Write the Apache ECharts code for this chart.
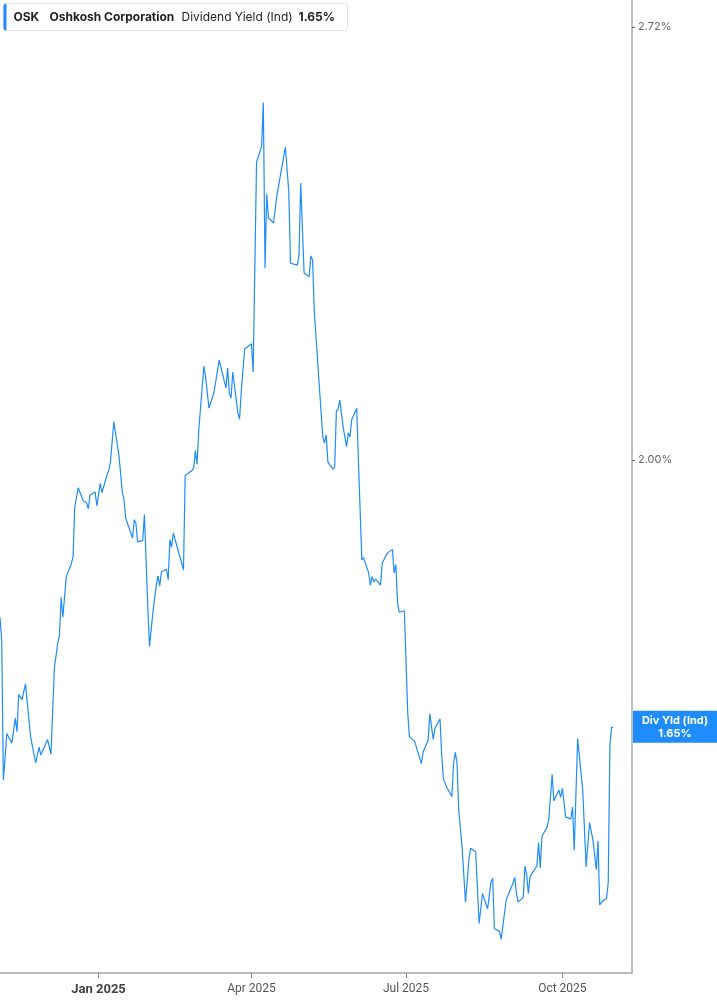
<!DOCTYPE html>
<html>
<head>
<meta charset="utf-8">
<script src="https://cdn.jsdelivr.net/npm/echarts@6/dist/echarts.min.js"></script>
<style>
  html, body { margin: 0; padding: 0; background: #fff; }
  #chart { width: 717px; height: 1005px; }
</style>
</head>
<body>
<div id="chart"></div>
<script>
const dates = [
  '2024-11-04','2024-11-05','2024-11-06','2024-11-08','2024-11-09','2024-11-11','2024-11-13','2024-11-14','2024-11-15','2024-11-17','2024-11-19','2024-11-20','2024-11-22','2024-11-25','2024-11-27','2024-11-28',
  '2024-12-02','2024-12-04','2024-12-06','2024-12-08','2024-12-09','2024-12-10','2024-12-11','2024-12-13','2024-12-16','2024-12-17','2024-12-18','2024-12-20','2024-12-23','2024-12-25','2024-12-26','2024-12-27','2024-12-30','2024-12-31',
  '2025-01-02','2025-01-03','2025-01-06','2025-01-07','2025-01-08','2025-01-10','2025-01-13','2025-01-15','2025-01-16','2025-01-17','2025-01-21','2025-01-22','2025-01-23','2025-01-24','2025-01-27','2025-01-28','2025-01-29','2025-01-30','2025-01-31',
  '2025-02-02','2025-02-04','2025-02-05','2025-02-06','2025-02-07','2025-02-08','2025-02-10','2025-02-11','2025-02-12','2025-02-13','2025-02-14','2025-02-20','2025-02-21','2025-02-22','2025-02-25','2025-02-26','2025-02-27','2025-02-28',
  '2025-03-01','2025-03-04','2025-03-05','2025-03-07','2025-03-10','2025-03-13','2025-03-17','2025-03-18','2025-03-19','2025-03-20','2025-03-21','2025-03-24','2025-03-25','2025-03-26','2025-03-28',
  '2025-04-01','2025-04-02','2025-04-04','2025-04-07','2025-04-08','2025-04-09','2025-04-10','2025-04-11','2025-04-14','2025-04-16','2025-04-17','2025-04-21','2025-04-23','2025-04-24','2025-04-28','2025-04-29','2025-04-30',
  '2025-05-02','2025-05-05','2025-05-06','2025-05-07','2025-05-08','2025-05-11','2025-05-13','2025-05-14','2025-05-15','2025-05-16','2025-05-19','2025-05-20','2025-05-21','2025-05-22','2025-05-23','2025-05-25','2025-05-27','2025-05-28','2025-05-29','2025-05-30',
  '2025-06-02','2025-06-03','2025-06-04','2025-06-05','2025-06-06','2025-06-09','2025-06-10','2025-06-11','2025-06-12','2025-06-13','2025-06-16','2025-06-17','2025-06-20','2025-06-23','2025-06-24','2025-06-25','2025-06-26','2025-06-27','2025-06-30',
  '2025-07-02','2025-07-03','2025-07-06','2025-07-08','2025-07-09','2025-07-10','2025-07-11','2025-07-14','2025-07-15','2025-07-17','2025-07-18','2025-07-21','2025-07-22','2025-07-23','2025-07-24','2025-07-25','2025-07-28','2025-07-29','2025-07-30','2025-07-31',
  '2025-08-01','2025-08-03','2025-08-05','2025-08-07','2025-08-08','2025-08-11','2025-08-13','2025-08-15','2025-08-18','2025-08-20','2025-08-21','2025-08-22','2025-08-25','2025-08-26','2025-08-27','2025-08-29','2025-08-30',
  '2025-09-02','2025-09-03','2025-09-04','2025-09-05','2025-09-08','2025-09-09','2025-09-10','2025-09-11','2025-09-12','2025-09-16','2025-09-17','2025-09-18','2025-09-19','2025-09-22','2025-09-23','2025-09-25','2025-09-26','2025-09-29','2025-09-30',
  '2025-10-01','2025-10-03','2025-10-06','2025-10-07','2025-10-08','2025-10-10','2025-10-13','2025-10-15','2025-10-16','2025-10-17','2025-10-19','2025-10-21','2025-10-22','2025-10-23','2025-10-24','2025-10-27','2025-10-28','2025-10-29','2025-10-30','2025-10-31'
];

// dividend yield, %
const yields = [
  1.788,1.760,1.593,1.647,1.643,1.636,1.665,1.649,1.693,1.687,1.706,1.705,1.643,1.613,1.631,1.622,
  1.640,1.623,1.725,1.756,1.766,1.814,1.789,1.841,1.858,1.867,1.934,1.961,1.943,1.940,1.932,1.951,1.955,1.936,
  1.967,1.954,1.979,1.985,1.997,2.055,2.007,1.955,1.944,1.919,1.892,1.917,1.912,1.887,1.889,1.924,1.923,1.802,1.752,
  1.795,1.830,1.842,1.829,1.847,1.849,1.851,1.837,1.890,1.880,1.899,1.850,1.978,1.980,1.985,1.989,2.013,1.994,
  2.043,2.138,2.122,2.075,2.099,2.147,2.105,2.135,2.097,2.090,2.129,2.068,2.059,2.099,2.164,
  2.172,2.129,2.471,2.499,2.578,2.292,2.416,2.375,2.367,2.414,2.416,2.498,2.419,2.300,2.297,2.313,2.435,
  2.284,2.278,2.312,2.305,2.222,2.106,2.033,2.024,2.036,1.997,1.987,1.990,2.071,2.074,2.087,2.047,2.019,2.039,2.033,2.058,
  2.075,1.996,1.997,1.863,1.866,1.846,1.830,1.841,1.834,1.838,1.830,1.859,1.872,1.877,1.846,1.857,1.807,1.795,1.797,
  1.671,1.643,1.638,1.625,1.625,1.612,1.625,1.639,1.670,1.640,1.653,1.664,1.622,1.595,1.595,1.585,1.575,1.613,1.625,1.613,
  1.560,1.519,1.461,1.506,1.518,1.514,1.439,1.470,1.454,1.482,1.486,1.434,1.431,1.423,1.423,1.464,1.468,
  1.481,1.487,1.470,1.461,1.466,1.499,1.490,1.470,1.488,1.499,1.524,1.497,1.531,1.541,1.549,1.600,1.570,1.582,1.574,
  1.584,1.552,1.550,1.563,1.516,1.641,1.582,1.498,1.499,1.546,1.527,1.495,1.526,1.458,1.461,1.465,1.481,1.634,1.654,1.654
];

const yTicks = [2.0, 2.72];
const xTicks = ['2025-01-01', '2025-04-01', '2025-07-01', '2025-10-01'];
const xRange = ['2024-11-04', '2025-11-11'];
const monthNames = ['Jan', 'Feb', 'Mar', 'Apr', 'May', 'Jun', 'Jul', 'Aug', 'Sep', 'Oct', 'Nov', 'Dec'];
const ticker = 'OSK';
const company = 'Oshkosh Corporation';
const metric = 'Dividend Yield (Ind)';
const shortMetric = 'Div Yld (Ind)';

const blue = '#1e8cfa';
const toTime = s => Date.UTC(+s.slice(0, 4), +s.slice(5, 7) - 1, +s.slice(8, 10));
const xTickValues = xTicks.map(toTime);
const points = dates.map((d, i) => [toTime(d), yields[i]]);
const lastValue = yields[yields.length - 1];
const lastText = lastValue.toFixed(2) + '%';

const chart = echarts.init(document.getElementById('chart'));

const headerFont = w => w + ' 12px Inter, sans-serif';

const option = {
    backgroundColor: '#fff',
    animation: false,
    grid: {
        left: 0,
        right: 85,
        top: 0,
        bottom: 32
    },
    xAxis: {
        type: 'value',
        min: toTime(xRange[0]),
        max: toTime(xRange[1]),
        axisLine: {
            show: true,
            onZero: false,
            lineStyle: { color: '#a8a8a8', width: 1.5 }
        },
        axisTick: {
            show: true,
            customValues: xTickValues,
            length: 5,
            lineStyle: { color: '#888' }
        },
        axisLabel: {
            customValues: xTickValues,
            margin: 10,
            fontFamily: 'Liberation Sans Narrow, Roboto, sans-serif',
            fontSize: 12,
            color: '#555',
            formatter: v => {
                const d = new Date(v);
                const txt = monthNames[d.getUTCMonth()] + ' ' + d.getUTCFullYear();
                return d.getUTCMonth() === 0 ? '{yr|' + txt + '}' : txt;
            },
            rich: {
                yr: {
                    fontFamily: 'Liberation Sans Narrow, Roboto, sans-serif',
                    fontSize: 13,
                    fontWeight: 'bold',
                    color: '#444'
                }
            }
        },
        splitLine: { show: false }
    },
    yAxis: {
        type: 'log',
        logBase: 10,
        position: 'right',
        min: 1.3893,
        max: 2.7728,
        axisLine: {
            show: true,
            lineStyle: { color: '#a8a8a8', width: 1.5 }
        },
        axisTick: {
            show: true,
            customValues: yTicks,
            length: 3,
            lineStyle: { color: '#666' }
        },
        axisLabel: {
            customValues: yTicks,
            margin: 6,
            fontFamily: 'Inter, sans-serif',
            fontSize: 11,
            color: '#666',
            formatter: v => v.toFixed(2) + '%'
        },
        splitLine: { show: false }
    },
    series: [{
        type: 'line',
        name: metric,
        data: points,
        showSymbol: false,
        symbol: 'none',
        lineStyle: { color: blue, width: 1.2 },
        markLine: {
            silent: true,
            symbol: 'none',
            lineStyle: { color: 'rgba(0,0,0,0)', width: 0 },
            label: {
                show: true,
                position: 'end',
                distance: 1,
                align: 'left',
                offset: [0, -4],
                formatter: '{t|' + shortMetric + '}\n{t|' + lastText + '}',
                backgroundColor: blue,
                padding: [3, 0],
                rich: {
                    t: {
                        width: 84,
                        align: 'center',
                        color: '#fff',
                        fontFamily: 'Inter, sans-serif',
                        fontWeight: 'bold',
                        fontSize: 11,
                        lineHeight: 13
                    }
                }
            },
            data: [{ yAxis: lastValue }]
        }
    }],
    graphic: [{
        type: 'group',
        left: 3,
        top: 3,
        children: [{
            type: 'rect',
            shape: { x: 0, y: 0, width: 344, height: 27, r: 3 },
            style: { fill: '#fff', stroke: '#e3e3e3', lineWidth: 1 }
        }, {
            type: 'rect',
            shape: { x: 0, y: 0, width: 3, height: 27, r: [3, 0, 0, 3] },
            style: { fill: blue }
        }, {
            type: 'text',
            x: 10, y: 13.5,
            style: { text: ticker, font: headerFont('bold'), fill: '#222', verticalAlign: 'middle' }
        }, {
            type: 'text',
            x: 46, y: 13.5,
            style: { text: company, font: headerFont('bold'), fill: '#222', verticalAlign: 'middle' }
        }, {
            type: 'text',
            x: 178, y: 13.5,
            style: { text: metric, font: headerFont('normal'), fill: '#222', verticalAlign: 'middle' }
        }, {
            type: 'text',
            x: 295, y: 13.5,
            style: { text: lastText, font: headerFont('bold'), fill: '#222', verticalAlign: 'middle' }
        }]
    }]
};

chart.setOption(option);
</script>
</body>
</html>
